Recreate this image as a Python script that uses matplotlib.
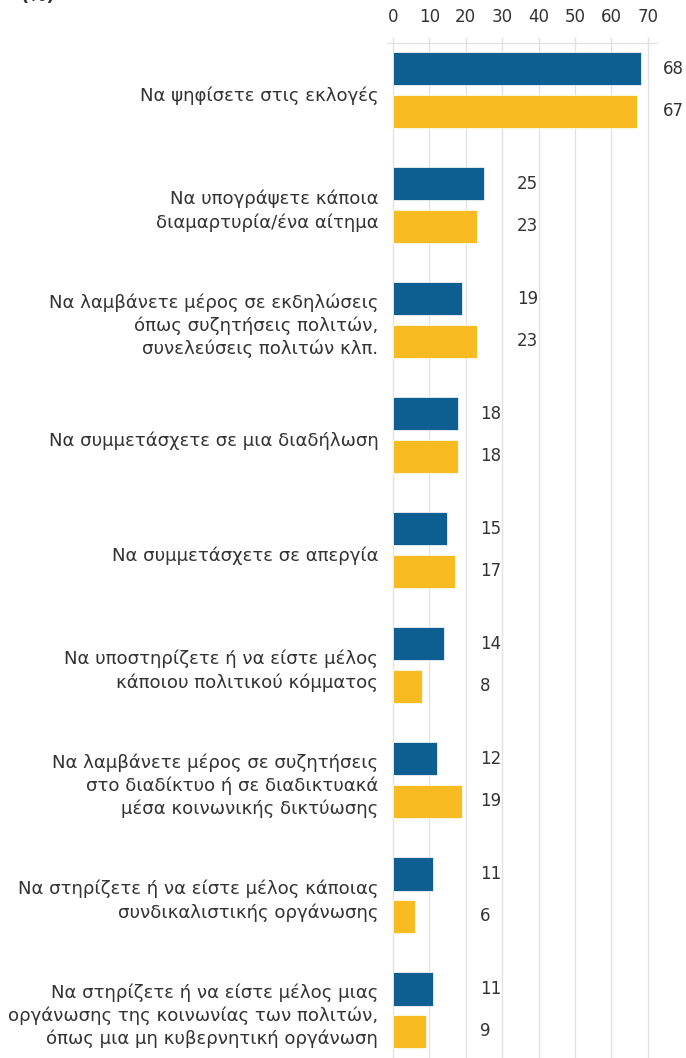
import math
import numpy as np
from matplotlib import pyplot as plt

# κατηγορίες και τιμές (%)
categories = [
    "Να ψηφίσετε στις εκλογές",
    "Να υπογράψετε κάποια\nδιαμαρτυρία/ένα αίτημα",
    "Να λαμβάνετε μέρος σε εκδηλώσεις\nόπως συζητήσεις πολιτών,\nσυνελεύσεις πολιτών κλπ.",
    "Να συμμετάσχετε σε μια διαδήλωση",
    "Να συμμετάσχετε σε απεργία",
    "Να υποστηρίζετε ή να είστε μέλος\nκάποιου πολιτικού κόμματος",
    "Να λαμβάνετε μέρος σε συζητήσεις\nστο διαδίκτυο ή σε διαδικτυακά\nμέσα κοινωνικής δικτύωσης",
    "Να στηρίζετε ή να είστε μέλος κάποιας\nσυνδικαλιστικής οργάνωσης",
    "Να στηρίζετε ή να είστε μέλος μιας\nοργάνωσης της κοινωνίας των πολιτών,\nόπως μια μη κυβερνητική οργάνωση",
]
blue_vals = [68, 25, 19, 18, 15, 14, 12, 11, 11]
yellow_vals = [67, 23, 23, 18, 17, 8, 19, 6, 9]
xticks = [0, 10, 20, 30, 40, 50, 60, 70]

BLUE = "#0d5f91"
YELLOW = "#f9bb22"
TXT = "#333333"
GRID = "#e2e2e2"

plt.rcParams['font.family'] = ['DejaVu Sans']

fig = plt.figure(figsize=(6.86, 10.58), dpi=100)
ax = fig.add_axes([387 / 686, 0, (657 - 387) / 686, 1 - 43 / 1058])

y = np.arange(len(categories))
h = 0.287
off = 0.183
ax.barh(y - off, blue_vals, height=h, color=BLUE, edgecolor="white", linewidth=0.5, zorder=3)
ax.barh(y + off, yellow_vals, height=h, color=YELLOW, edgecolor="white", linewidth=0.5, zorder=3)

ax.set_xlim(-1.6, 72.5)
ax.set_ylim(len(categories) - 1 + 0.417, -0.409)

# πλέγμα
for t in xticks:
    ax.axvline(t, color=GRID, lw=1, zorder=0)
    ax.plot([t, t], [-0.409, -0.455], color=GRID, lw=1, clip_on=False)

ax.xaxis.tick_top()
ax.set_xticks(xticks)
ax.set_xticklabels([str(t) for t in xticks], fontsize=12, color=TXT)
ax.tick_params(axis="x", length=0, pad=12)
ax.set_yticks([])
for s in ["left", "right", "bottom"]:
    ax.spines[s].set_visible(False)
ax.spines["top"].set_color(GRID)
ax.spines["top"].set_linewidth(1)

# ετικέτες τιμών
for i in range(len(categories)):
    gmax = max(blue_vals[i], yellow_vals[i])
    lx = math.ceil(gmax / 10) * 10 + 4
    ax.text(lx, i - off, str(blue_vals[i]), ha="left", va="center", fontsize=12, color=TXT)
    ax.text(lx, i + off, str(yellow_vals[i]), ha="left", va="center", fontsize=12, color=TXT)
    ax.text(-4.0, i + 0.05, categories[i], ha="right", va="center", fontsize=13.1,
            color=TXT, linespacing=1.33, clip_on=False)

fig.text(20 / 686, 1.004, "(%)", ha="left", va="center", fontsize=13, fontweight="bold", color=TXT)

fig.savefig("out.png", dpi=100)
